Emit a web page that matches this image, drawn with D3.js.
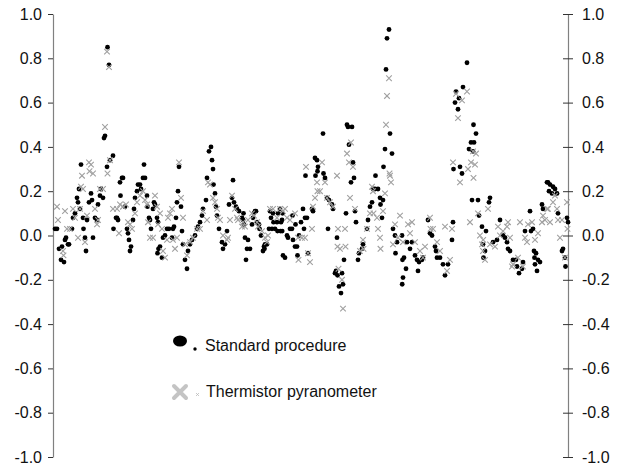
<!DOCTYPE html>
<html>
<head>
<meta charset="utf-8">
<script src="https://cdn.jsdelivr.net/npm/d3@7"></script>
<style>
  html, body { margin: 0; padding: 0; background: #fff; }
  svg { display: block; }
  text { font-family: "Liberation Sans", Arial, sans-serif; }
</style>
</head>
<body>
<svg id="chart" width="618" height="465"></svg>
<script>
// ---- data (observation day, difference value) ----
const standard = [
[2,0.03],[4,0.03],[6,-0.06],[8,-0.11],[9,-0.05],[11,-0.12],[12,-0.02],[13,-0.01],[15,-0.04],[16,-0.04],
[19,0.03],[20,0.08],[22,0.10],[24,0.17],[25,0.15],[26,0.21],[27,0.12],[28,0.32],[30,0.08],[30.5,0.03],
[32,-0.01],[33,-0.07],[34,0.07],[36,0.15],[38,0.19],[39,0.16],[40,-0.01],[42,0.08],[44,0.07],[45,0.14],
[47,0.18],[48,0.21],[50,0.17],[51,0.44],[52,0.45],[54,0.31],[54.5,0.85],[56,0.77],[57,0.34],[60,0.36],
[60.5,0.03],[63,0.08],[64,0.08],[65,0.07],[67,0.24],[67.5,0.18],[69,0.26],[70,0.26],[72,0.13],[74,0.03],
[75,0.01],[76,-0.02],[77,-0.07],[78,-0.05],[80,0.07],[81,0.12],[82,0.17],[84,0.20],[85,0.23],[87,0.23],
[88,0.21],[90,0.26],[91,0.32],[92,0.26],[94,0.18],[94.5,0.13],[96,0.08],[97,0.07],[98,0.03],[100,0.12],
[101,0.15],[102,0.14],[104,0.08],[104.5,-0.08],[105,0.06],[105.5,-0.06],[107,-0.05],[109,-0.10],[110,-0.01],[112,0.00],
[114,0.03],[116,0.03],[119,-0.01],[120,0.03],[121,0.04],[123,0.08],[124,0.15],[125,0.20],[126,0.31],[128,0.13],
[129,0.02],[130,-0.04],[132,-0.11],[134,-0.15],[135,-0.07],[137,-0.04],[139,-0.02],[142,0.00],[144,0.03],[145,0.04],
[147,0.06],[149,0.09],[150,0.12],[153,0.16],[154,0.26],[156,0.38],[158,0.40],[159,0.34],[160,0.30],[160.5,0.23],
[162,0.19],[163,0.13],[164,0.09],[166,0.03],[169,-0.03],[170,-0.06],[172,-0.04],[174,0.02],[176,0.14],[179,0.17],
[180,0.25],[181,0.15],[183,0.13],[184,0.12],[186,0.11],[189,0.08],[190,0.07],[190.5,0.10],[191,0.05],[192,-0.01],
[193,-0.11],[194,-0.06],[195,-0.02],
[197,-0.06],[199,0.05],[200,0.08],[201,0.10],[202,0.11],[203,0.11],[204,0.06],[206,0.05],[206.5,0.03],[208,0.00],
[210,-0.07],[211,-0.05],[211.5,-0.06],[212,-0.04],[214,-0.04],
[216,0.03],[217,0.11],[218,0.08],[219,0.03],[220,0.10],[220.5,0.06],[222,0.03],[224,0.06],[224.5,0.02],[225,0.10],
[227,0.12],[227.5,0.02],[228,0.06],[229,0.07],[229.2,0.02],[229.5,0.10],[230,-0.09],[232,-0.10],
[234,0.00],[235,-0.01],[237,0.03],[239,0.03],[239.5,0.09],[240,-0.02],[242,-0.05],[242.5,0.05],[244,-0.05],[244.5,-0.09],
[246,0.00],[248,0.06],[250,0.12],[251,0.03],
[252,0.08],[252.5,0.27],[254,0.08],[255,-0.08],[259,0.12],[260,0.11],[262,0.35],[262.5,0.27],[264,0.34],[264.5,0.29],
[265,0.31],[270,0.46],[270.5,0.28],[272,0.26],[274,0.17],[275,0.03],[276,0.16],[279,0.14],[280,0.12],[282,-0.17],
[283,-0.16],[284,-0.01],[284.5,-0.18],[286,-0.23],[288,-0.26],[289,-0.17],[290,-0.22],[291,-0.11],[293,0.10],[294,0.50],
[295,0.49],[296,0.41],[298,0.24],[299,0.49],[300,0.33],[301,0.26],[302,0.11],[303,0.06],[305,-0.11],[306,-0.08],
[309,-0.06],[310,-0.04],[314,0.03],[315,0.07],[317,0.13],[319,0.15],[320,0.21],[322,0.21],[322.5,0.27],[325,0.21],
[327,0.17],[327.5,0.14],[329,0.08],[330,0.16],[330.5,0.31],[332,0.39],[333,0.75],[334,0.89],[336,0.93],[337,0.46],
[339,0.37],[340,0.03],[342,0.00],[342.5,-0.08],[344,-0.03],[349,0.00],[349.2,-0.22],[349.5,-0.11],[350,-0.19],[351,-0.10],
[353,-0.15],[354,-0.03],[357,-0.06],[359,-0.03],[362,-0.09],[364,-0.11],[365,-0.16],[366,-0.12],[369,-0.11],[370,-0.10],
[375,0.07],[377,0.01],[379,0.00],[382,-0.05],[383,-0.07],[384,-0.10],[387,-0.10],[390,-0.13],[392,-0.18],[395,-0.13],
[399,-0.02],[400,0.06],[400.5,0.30],[402,0.60],[403,0.65],[405,0.57],[406,0.62],[407,0.31],[409,0.28],[410,0.67],
[414,0.78],[416,0.39],[418,0.42],[419,0.16],[420,0.38],[420.5,0.50],[421,0.42],[423,0.46],[425,0.16],[426,0.09],
[429,0.04],[430,-0.04],[430.5,-0.10],[432,-0.07],[433,0.02],[436,0.15],[437,0.17],[440,-0.03],[444,-0.02],[447,0.07],
[450,0.00],[452,-0.01],[454,-0.03],[455,-0.06],[457,-0.07],[460,-0.11],[463,-0.11],[464,-0.14],[466,-0.17],[469,-0.15],
[470,-0.12],[472,0.02],[477,0.11],[478,0.02],[480,0.03],[481,-0.07],[481.5,-0.10],[482,-0.13],[483,-0.08],[484,-0.16],
[485,-0.11],[487,-0.12],[489,0.14],[490,0.12],[494,0.24],[495,0.24],[496,0.20],[497,0.23],[499,0.19],[500,0.22],
[502,0.21],[504,0.19],[505,0.10],[509,-0.07],[510,-0.06],[512,-0.10],[512.5,-0.14],[514,0.08],[515,0.06]
];

const thermistor = [
[4,0.13],[5,0.07],[10,-0.07],[10.5,-0.09],[12,0.11],[14,0.03],[17,0.03],[20,0.12],[22,0.08],[25,-0.01],
[27,0.12],[28,0.22],[29,0.27],[30,0.21],[32,-0.03],[34,0.09],[36,0.33],[36.5,0.29],[38,0.32],[40,0.28],
[42,0.12],[44,0.05],[45,0.07],[47,0.21],[50,0.21],[52,0.49],[54,0.83],[54.5,0.28],[56,0.76],[57,0.34],
[60,0.12],[64,0.12],[66,0.01],[67,0.14],[70,0.13],[73,0.14],[75,0.06],[77,0.05],[79,0.03],[82,0.10],
[84,0.15],[87,0.18],[90,0.20],[92,0.16],[94,0.14],[95,0.06],[97,-0.01],[100,-0.01],[102,0.18],[104,0.13],
[105,0.05],[107,0.10],[109,0.03],[110,-0.07],[112,-0.10],[114,-0.02],[115,0.08],[117,0.10],[119,0.12],[120,-0.02],
[122,-0.06],[124,-0.01],[126,0.33],[128,0.17],[130,0.08],[132,-0.04],[134,-0.09],[137,-0.03],[140,-0.01],[144,0.03],
[147,0.03],[150,0.11],[154,0.07],[155,0.24],[157,0.23],[160,0.17],[162,0.15],[164,0.12],[165,0.08],[167,0.07],
[170,0.00],[174,-0.02],[175,-0.01],[177,0.07],[179,0.18],[182,0.12],[184,0.08],[185,0.07],[189,0.04],[190,0.06],
[192,0.04],[195,0.07],[199,0.10],[201,0.09],[204,0.06],[205,0.04],[209,0.02],[212,-0.01],[214,-0.03],[215,0.00],
[217,0.12],[220,0.12],[224,0.08],[227,0.12],[230,0.11],[232,0.12],[234,0.08],[237,0.07],[242,0.10],[245,-0.01],
[245.5,-0.11],[249,-0.01],[252,-0.01],[253,0.31],[255,-0.08],[257,-0.12],[259,0.03],[260,0.13],[262,0.17],[264,0.24],
[264.5,0.20],[267,0.20],[269,0.33],[272,0.24],[274,0.17],[277,0.15],[280,0.13],[284,0.27],[284.5,-0.05],[285,0.03],
[285.5,-0.15],[287,-0.06],[289,-0.20],[290,-0.33],[292,0.03],[292.5,-0.05],[294,0.37],[296,0.33],[297,0.17],[298,0.42],
[300,0.31],[302,0.12],[307,-0.07],[310,-0.02],[310.5,-0.06],[314,0.03],[317,0.10],[319,0.22],[320,0.20],[320.5,0.10],
[324,0.08],[325,0.03],[327,-0.01],[327.5,-0.06],[330,0.11],[332,0.19],[333,0.50],[334,0.63],[336,0.71],[336.5,0.28],
[337,0.27],[338,0.24],[340,-0.04],[342,0.05],[345,-0.01],[347,0.09],[350,-0.03],[355,0.05],[357,0.01],[359,0.06],
[362,-0.03],[367,-0.07],[370,-0.10],[372,-0.05],[377,0.08],[377.5,0.03],[380,0.03],[384,-0.03],[387,-0.07],[392,0.04],
[394,-0.16],[397,-0.11],[399,0.03],[400,0.33],[403,0.64],[405,0.53],[407,0.24],[409,0.61],[414,0.65],[415,0.30],
[417,0.06],[418,0.33],[420,0.38],[420.5,0.26],[422,0.32],[423,0.37],[425,0.10],[427,0.00],[429,-0.04],[430,-0.07],
[430.2,-0.02],[432,-0.11],[435,0.12],[437,-0.04],[442,-0.05],[445,0.04],[447,0.00],[450,0.02],[454,0.04],[455,0.06],
[457,-0.01],[459,-0.14],[460,-0.13],[465,-0.10],[467,0.06],[470,-0.14],[472,-0.01],[474,-0.03],[475,0.05],[479,0.06],
[482,-0.02],[485,0.01],[489,0.06],[490,0.09],[492,0.07],[494,0.12],[495,0.12],[497,0.06],[500,0.15],[502,0.18],
[504,0.12],[505,0.07],[507,-0.01],[509,0.07],[512,-0.10],[514,0.15],[514.5,0.03]
];

const yTicks = [-1.0, -0.8, -0.6, -0.4, -0.2, 0.0, 0.2, 0.4, 0.6, 0.8, 1.0];
const yTickLabels = ["-1.0", "-0.8", "-0.6", "-0.4", "-0.2", "0.0", "0.2", "0.4", "0.6", "0.8", "1.0"];
const seriesNames = ["Standard procedure", "Thermistor pyranometer"];
const xDomain = [0, 515];

// ---- layout ----
const svg = d3.select("#chart");
const mLeft = 53, mRight = 568, mTop = 14, mBottom = 457;

const x = d3.scaleLinear().domain(xDomain).range([mLeft, mRight]);
const y = d3.scaleLinear().domain([-1, 1]).range([mBottom, mTop]);

const axisColor = "#808080";
const tickColor = "#333";

// left axis
svg.append("g").attr("transform", `translate(${mLeft},0)`)
  .call(d3.axisLeft(y).tickValues(yTicks).tickSize(5).tickSizeOuter(0).tickPadding(6)
    .tickFormat((d, i) => yTickLabels[i]));
// right axis
svg.append("g").attr("transform", `translate(${mRight},0)`)
  .call(d3.axisRight(y).tickValues(yTicks).tickSize(5).tickSizeOuter(0).tickPadding(9)
    .tickFormat((d, i) => yTickLabels[i]));
// inner half of the right cross ticks
svg.append("g").attr("transform", `translate(${mRight},0)`)
  .call(d3.axisLeft(y).tickValues(yTicks).tickSize(5).tickSizeOuter(0).tickFormat(""))
  .select(".domain").remove();

svg.selectAll(".domain").attr("stroke", axisColor).attr("stroke-width", 1.2);
svg.selectAll(".tick line").attr("stroke", tickColor);
svg.selectAll(".tick text").attr("font-size", 16).attr("fill", "#111")
  .attr("font-family", "'Liberation Sans', Arial, sans-serif");

// ---- marks ----
const plot = svg.append("g");
plot.selectAll("circle.std").data(standard).join("circle")
  .attr("class", "std")
  .attr("cx", d => x(d[0])).attr("cy", d => y(d[1]))
  .attr("r", 2.4).attr("fill", "#000");

const s = 2.8;
plot.selectAll("path.therm").data(thermistor).join("path")
  .attr("class", "therm")
  .attr("d", d => {
    const cx = x(d[0]), cy = y(d[1]);
    return `M${cx - s},${cy - s}L${cx + s},${cy + s}M${cx - s},${cy + s}L${cx + s},${cy - s}`;
  })
  .attr("stroke", "#a0a0a0").attr("stroke-width", 1.1).attr("fill", "none");

// ---- legend ----
const lg = svg.append("g");
lg.append("ellipse").attr("cx", 180).attr("cy", 341).attr("rx", 7).attr("ry", 5.5).attr("fill", "#000");
lg.append("circle").attr("cx", 195).attr("cy", 349).attr("r", 1.7).attr("fill", "#000");
lg.append("text").attr("x", 205).attr("y", 346).attr("dy", "0.32em")
  .attr("font-size", 16).attr("fill", "#111").text(seriesNames[0]);

const b = 6;
lg.append("path")
  .attr("d", `M${180 - b},${392 - b}L${180 + b},${392 + b}M${180 - b},${392 + b}L${180 + b},${392 - b}`)
  .attr("stroke", "#c4c4c4").attr("stroke-width", 4).attr("stroke-linecap", "round");
lg.append("path")
  .attr("d", `M196,393L199,396M196,396L199,393`)
  .attr("stroke", "#bbb").attr("stroke-width", 0.8);
lg.append("text").attr("x", 206).attr("y", 392).attr("dy", "0.32em")
  .attr("font-size", 16).attr("fill", "#111").text(seriesNames[1]);
</script>
</body>
</html>
